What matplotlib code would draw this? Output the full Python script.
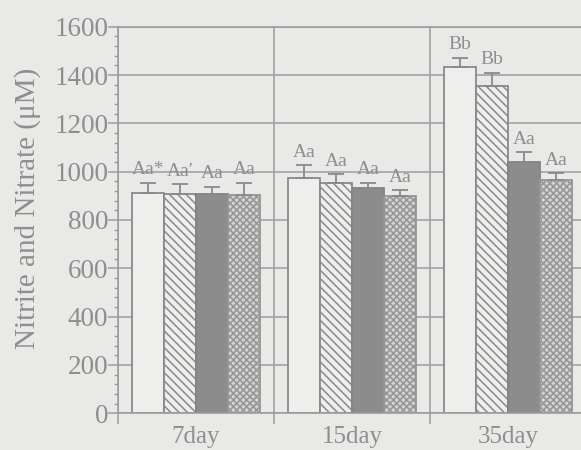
import numpy as np
import matplotlib.pyplot as plt
from matplotlib.ticker import MultipleLocator, FixedLocator

# data
days = ["7day", "15day", "35day"]
means = [
    [910, 973, 1432],   # open bars
    [907, 955, 1355],   # diagonal hatch
    [906, 931, 1041],   # dark
    [903, 899, 966],    # cross hatch
]
errs = [
    [45, 55, 40],
    [41, 35, 55],
    [32, 24, 39],
    [52, 25, 27],
]
letters = [
    ["Aa*", "Aa\u2032", "Aa", "Aa"],
    ["Aa", "Aa", "Aa", "Aa"],
    ["Bb", "Bb", "Aa", "Aa"],
]

bg = "#e9eae7"
ink = "#8e8e8e"
line = "#9c9c9c"
serif = ["Liberation Serif", "DejaVu Serif"]
plt.rcParams["font.family"] = serif
plt.rcParams["hatch.linewidth"] = 1.1

fig = plt.figure(figsize=(5.81, 4.5), dpi=100)
fig.patch.set_facecolor(bg)
ax = fig.add_axes([118 / 581, 36.7 / 450, 468 / 581, 386.6 / 450])
ax.set_facecolor(bg)

styles = [
    dict(facecolor="#eeeeec", edgecolor="#8a8a8a", hatch=None),
    dict(facecolor="#eeeeec", edgecolor="#8a8a8a", hatch="\\\\\\\\"),
    dict(facecolor="#8c8c8c", edgecolor="#838383", hatch=None),
    dict(facecolor="#d2d2d0", edgecolor="#959595", hatch="xxxxx"),
]

x = np.arange(len(days))
w = 0.205
offsets = (np.arange(4) - 1.5) * w

for i in range(4):
    xs = x + offsets[i]
    ax.bar(xs, means[i], w, linewidth=1.3, zorder=2, **styles[i])
    ax.errorbar(xs, means[i], yerr=[np.zeros(3), errs[i]], fmt="none",
                ecolor="#8a8a8a", elinewidth=1.3, capsize=6, capthick=1.3,
                zorder=3)

# significance letters just above each error cap
tops = np.array(means) + np.array(errs)
for g in range(len(days)):
    for i in range(4):
        ax.annotate(letters[g][i], (x[g] + offsets[i], tops[i, g]),
                    xytext=(0, 6), textcoords="offset points",
                    ha="center", va="baseline", fontsize=14, color=ink,
                    zorder=4)

ax.set_ylim(0, 1600)
ax.set_xlim(-0.5, 2.5)
ax.yaxis.set_major_locator(MultipleLocator(200))
ax.yaxis.set_minor_locator(MultipleLocator(40))
ax.xaxis.set_major_locator(FixedLocator([-0.5, 0.5, 1.5, 2.5]))
ax.xaxis.set_minor_locator(FixedLocator(x))
ax.set_xticklabels([])
ax.set_xticklabels(days, minor=True)

ax.grid(True, which="major", color=line, linewidth=1.1, zorder=0)
ax.set_axisbelow(True)

ax.tick_params(axis="y", which="major", length=7, width=1.1, color=line,
               labelsize=19.5, labelcolor=ink, pad=0)
ax.tick_params(axis="y", which="minor", length=3, width=1, color=line)
ax.tick_params(axis="x", which="major", length=8, width=1.1, color=line)
ax.tick_params(axis="x", which="minor", length=0, labelsize=18,
               labelcolor=ink, pad=9)

for side in ["left", "bottom", "top"]:
    ax.spines[side].set_color(line)
    ax.spines[side].set_linewidth(1.2)
ax.spines["right"].set_visible(False)

ax.set_ylabel("Nitrite and Nitrate (\u03bcM)", fontsize=21, color=ink)
ax.yaxis.set_label_coords(-0.164, 0.53)

fig.savefig("out.png", dpi=100, facecolor=bg)
